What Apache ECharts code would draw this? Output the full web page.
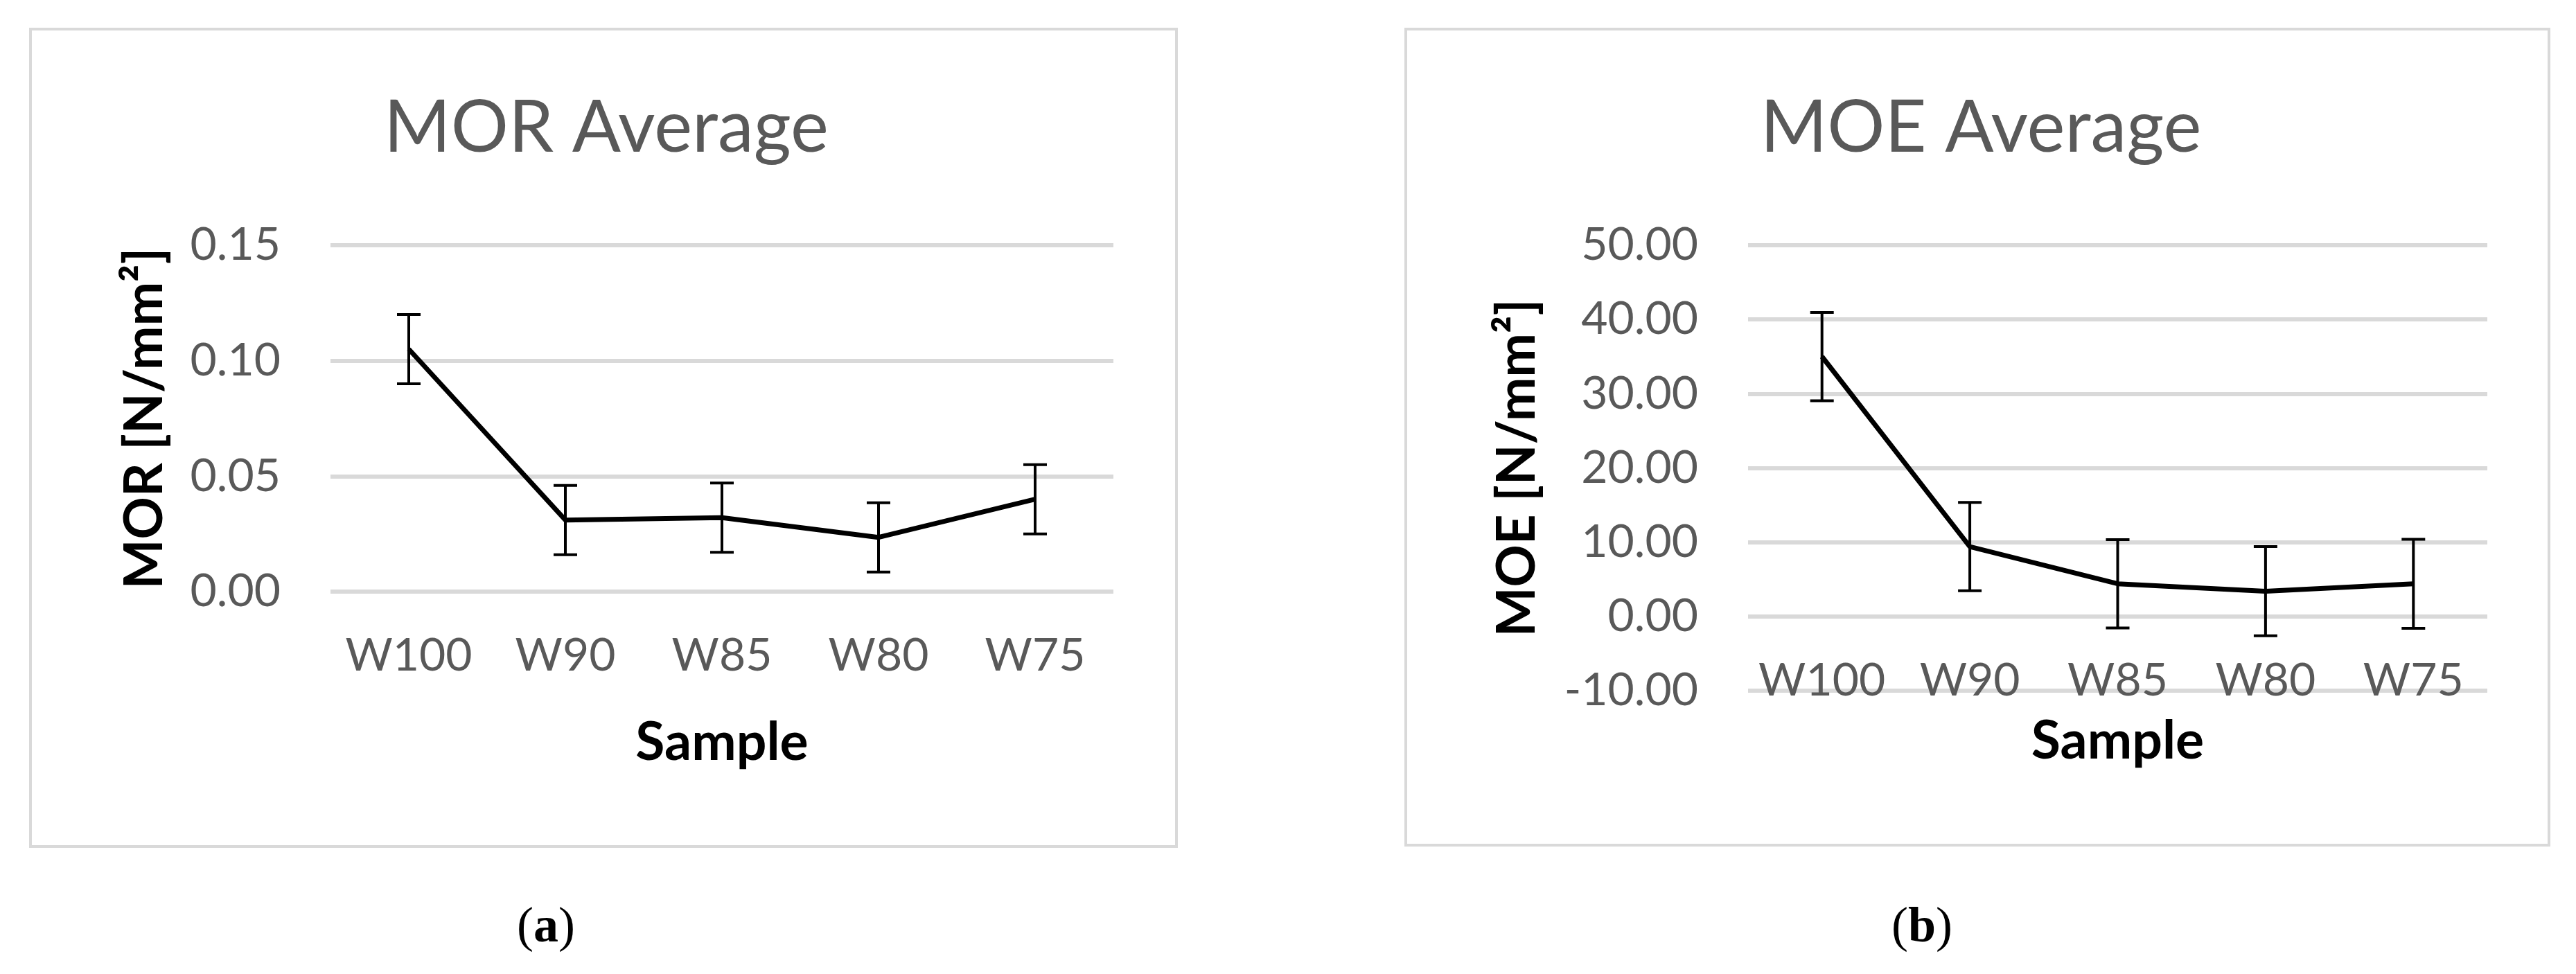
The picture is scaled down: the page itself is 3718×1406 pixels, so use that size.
<!DOCTYPE html>
<html>
<head>
<meta charset="utf-8">
<title>MOR / MOE Average</title>
<script src="https://cdn.jsdelivr.net/npm/echarts@6/dist/echarts.min.js"></script>
<style>
    html, body { margin: 0; padding: 0; background: #fff; }
    #chart { width: 3718px; height: 1406px; }
</style>
</head>
<body>
<div id="chart"></div>
<script>
// data
const categories = ['W100', 'W90', 'W85', 'W80', 'W75'];
const morAvg = [0.105, 0.031, 0.032, 0.0235, 0.040];
const morErr = [0.015, 0.015, 0.015, 0.015, 0.015];
const moeAvg = [35.0, 9.4, 4.4, 3.4, 4.4];
const moeErr = [5.95, 5.95, 5.95, 6.0, 6.0];
const morTicks = [0, 0.05, 0.10, 0.15];
const moeTicks = [-10, 0, 10, 20, 30, 40, 50];

const chart = echarts.init(document.getElementById('chart'), null, { renderer: 'canvas' });

const FONT = 'Lato, "Open Sans", sans-serif';
const GREY = '#595959';
const GRID_LINE = '#D9D9D9';

const MOE_GRID_H = 643;

/** error bar items: [index, low, high] */
const errData = (avg, err) => avg.map((v, i) => [i, v - err[i], v + err[i]]);

const renderErrBar = (params, api) => {
    const x = api.value(0);
    const lo = api.coord([x, api.value(1)]);
    const hi = api.coord([x, api.value(2)]);
    const half = 17;
    const style = { stroke: '#000', lineWidth: 4 };
    return {
        type: 'group',
        children: [
            { type: 'line', shape: { x1: lo[0], y1: lo[1], x2: hi[0], y2: hi[1] }, style },
            { type: 'line', shape: { x1: lo[0] - half, y1: lo[1], x2: lo[0] + half, y2: lo[1] }, style },
            { type: 'line', shape: { x1: hi[0] - half, y1: hi[1], x2: hi[0] + half, y2: hi[1] }, style }
        ]
    };
};

const xAxisBase = (gridIndex, nameGap, offset) => ({
    type: 'category',
    gridIndex,
    data: categories,
    boundaryGap: true,
    offset,
    name: 'Sample',
    nameLocation: 'middle',
    nameGap,
    nameTextStyle: { fontFamily: FONT, fontSize: 77, fontWeight: 'bold', color: '#000' },
    axisLine: { show: false, onZero: false },
    axisTick: { show: false },
    axisLabel: { fontFamily: FONT, fontSize: 66, color: GREY, margin: 60, interval: 0 },
    splitLine: { show: false }
});

const yAxisBase = (gridIndex, ticks, name, nameGap) => ({
    type: 'value',
    gridIndex,
    min: ticks[0],
    max: ticks[ticks.length - 1],
    interval: ticks[1] - ticks[0],
    name,
    nameLocation: 'middle',
    nameGap,
    nameTextStyle: { fontFamily: FONT, fontSize: 76, fontWeight: 'bold', color: '#000' },
    axisLine: { show: false },
    axisTick: { show: false },
    axisLabel: {
        fontFamily: FONT, fontSize: 66, color: GREY, margin: 72,
        formatter: (v) => v.toFixed(2)
    },
    splitLine: { show: true, lineStyle: { color: GRID_LINE, width: 6 } }
});

// MOE category labels sit on the zero line, one tick step above the bottom
const moeZeroShift = -MOE_GRID_H * (0 - moeTicks[0]) / (moeTicks[moeTicks.length - 1] - moeTicks[0]);

const options = {
    backgroundColor: '#fff',
    animation: false,
    title: [
        {
            text: 'MOR Average', left: 870, top: 128, textAlign: 'center',
            textStyle: { fontFamily: FONT, fontSize: 104, fontWeight: 'normal', color: GREY }
        },
        {
            text: 'MOE Average', left: 2854, top: 128, textAlign: 'center',
            textStyle: { fontFamily: FONT, fontSize: 104, fontWeight: 'normal', color: GREY }
        }
    ],
    grid: [
        { left: 477, top: 354, width: 1130, height: 500, outerBoundsMode: 'none' },
        { left: 2523, top: 354, width: 1067, height: MOE_GRID_H, outerBoundsMode: 'none' }
    ],
    xAxis: [xAxisBase(0, 180, 0), xAxisBase(1, 142, moeZeroShift)],
    yAxis: [
        yAxisBase(0, morTicks, 'MOR [N/mm²]', 230),
        yAxisBase(1, moeTicks, 'MOE [N/mm²]', 295)
    ],
    series: [
        {
            type: 'custom', xAxisIndex: 0, yAxisIndex: 0,
            data: errData(morAvg, morErr), renderItem: renderErrBar, z: 3
        },
        {
            type: 'line', xAxisIndex: 0, yAxisIndex: 0, data: morAvg,
            symbol: 'none', lineStyle: { color: '#000', width: 7 }, z: 4
        },
        {
            type: 'custom', xAxisIndex: 1, yAxisIndex: 1,
            data: errData(moeAvg, moeErr), renderItem: renderErrBar, z: 3
        },
        {
            type: 'line', xAxisIndex: 1, yAxisIndex: 1, data: moeAvg,
            symbol: 'none', lineStyle: { color: '#000', width: 7 }, z: 4
        }
    ],
    graphic: [
        // panel frames
        { type: 'rect', shape: { x: 44, y: 42, width: 1654, height: 1180 }, style: { fill: 'none', stroke: GRID_LINE, lineWidth: 4 }, z: -1 },
        { type: 'rect', shape: { x: 2029, y: 42, width: 1650, height: 1178 }, style: { fill: 'none', stroke: GRID_LINE, lineWidth: 4 }, z: -1 },
        // captions
        {
            type: 'text', x: 788, y: 1340,
            style: {
                text: '({b|a})', fill: '#000', align: 'center', verticalAlign: 'middle',
                font: '72px "Liberation Serif", serif',
                rich: { b: { fontFamily: '"Liberation Serif", serif', fontSize: 72, fontWeight: 'bold' } }
            }
        },
        {
            type: 'text', x: 2774, y: 1340,
            style: {
                text: '({b|b})', fill: '#000', align: 'center', verticalAlign: 'middle',
                font: '72px "Liberation Serif", serif',
                rich: { b: { fontFamily: '"Liberation Serif", serif', fontSize: 72, fontWeight: 'bold' } }
            }
        }
    ]
};

chart.setOption(options);

window.addEventListener('resize', () => chart.resize());
</script>
</body>
</html>
